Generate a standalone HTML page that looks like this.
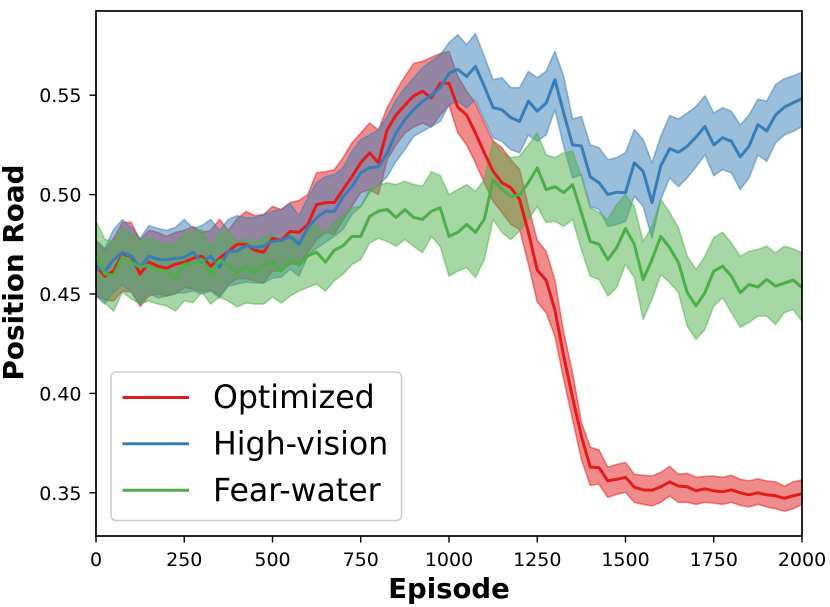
<!DOCTYPE html>
<html>
<head>
<meta charset="utf-8">
<style>
html,body{margin:0;padding:0;background:#fff;}
svg{display:block;}
text{font-family:"DejaVu Sans","Liberation Sans",sans-serif;fill:#000;}
</style>
</head>
<body>
<svg id="chart" xmlns="http://www.w3.org/2000/svg" width="830" height="607" viewBox="0 0 830 607">
<defs><clipPath id="plot-clip"><rect x="96" y="11" width="706" height="525"></rect></clipPath></defs>
<g id="bands" clip-path="url(#plot-clip)"></g>
<g id="lines" clip-path="url(#plot-clip)"></g>
<rect x="96" y="11" width="706" height="525" fill="none" stroke="#000" stroke-width="1.7"></rect>
<g id="x-axis"></g>
<g id="y-axis"></g>
<text x="449" y="598" font-size="27.5" font-weight="bold" text-anchor="middle">Episode</text>
<text transform="translate(23,272.5) rotate(-90)" font-size="27.8" font-weight="bold" text-anchor="middle">Position Road</text>
<g>
<rect x="111" y="372" width="290.5" height="148.5" rx="5" fill="#fff" fill-opacity="0.8" stroke="#cccccc" stroke-width="1.5"></rect>
<line x1="122.5" x2="189" y1="397.5" y2="397.5" stroke="#e41a1c" stroke-width="3"></line>
<text x="213" y="408" font-size="31.6">Optimized</text>
<line x1="122.5" x2="189" y1="443.8" y2="443.8" stroke="#377eb8" stroke-width="3"></line>
<text x="213" y="454.5" font-size="31.6">High-vision</text>
<line x1="122.5" x2="189" y1="490.2" y2="490.2" stroke="#4daf4a" stroke-width="3"></line>
<text x="213" y="501" font-size="31.6">Fear-water</text>
</g>
</svg>
<script>
var episodes = [0,25,50,75,100,125,150,175,200,225,250,275,300,325,350,375,400,425,450,475,500,525,550,575,600,625,650,675,700,725,750,775,800,825,850,875,900,925,950,975,1000,1025,1050,1075,1100,1125,1150,1175,1200,1225,1250,1275,1300,1325,1350,1375,1400,1425,1450,1475,1500,1525,1550,1575,1600,1625,1650,1675,1700,1725,1750,1775,1800,1825,1850,1875,1900,1925,1950,1975,2000];
var optimizedMean = [.464,.459,.4615,.470,.469,.460,.466,.464,.463,.465,
.466,.468,.469,.464,.468,.4715,.475,.475,.472,.471,
.478,.477,.4815,.481,.485,.495,.496,.496,.5025,.509,
.516,.521,.516,.5327,.540,.545,.5497,.552,.5487,.556,
.556,.544,.540,.531,.521,.5117,.506,.5035,.4975,.481,
.462,.457,.442,.4187,.398,.3785,.363,.3626,.356,.3568,
.3578,.3528,.3515,.3513,.353,.3555,.3534,.353,.351,.352,
.351,.3505,.3515,.350,.349,.350,.349,.3485,.3472,.3485,
.3495];
var optimizedUpper = [.477,.472,.478,.486,.486,.477,.482,.481,.479,.481,
.482,.484,.481,.482,.4875,.482,.488,.4915,.4894,.490,
.494,.4925,.496,.497,.500,.511,.5115,.5125,.5185,.526,
.531,.536,.5325,.5437,.552,.5594,.566,.567,.569,.571,
.572,.5594,.552,.546,.536,.527,.5236,.5176,.5126,.494,
.477,.4715,.457,.4306,.4105,.3854,.373,.3715,.3628,.3643,
.3653,.3593,.3588,.3584,.3603,.3633,.3593,.3598,.3578,.3583,
.3584,.3578,.3588,.3568,.356,.357,.356,.3555,.3533,.3555,
.3565];
var optimizedLower = [.449,.447,.4465,.4516,.451,.4438,.449,.450,.449,.450,
.4533,.4525,.451,.452,.449,.4548,.4577,.4577,.4565,.4557,
.4615,.4615,.465,.465,.4709,.4774,.481,.480,.4874,.494,
.501,.5025,.500,.5176,.525,.531,.534,.536,.534,.540,
.545,.531,.525,.516,.506,.4966,.491,.485,.4825,.465,
.446,.4406,.4288,.407,.387,.3668,.3538,.3543,.3477,.3492,
.3502,.3452,.3442,.3434,.3452,.3484,.3452,.3452,.3442,.3452,
.3448,.3442,.3452,.3437,.3429,.3442,.3429,.342,.3407,.342,
.3442];
var highVisionMean = [.4633,.4615,.4673,.4708,.4692,.4633,.469,.4675,.4672,.468,
.4685,.471,.466,.469,.4635,.4715,.4715,.4743,.4735,.474,
.4765,.477,.479,.475,.4834,.4884,.4916,.4916,.499,.504,
.511,.5135,.514,.521,.531,.5377,.5427,.5469,.55,.5537,
.561,.563,.5594,.5645,.5544,.5437,.5427,.5387,.5368,.547,
.542,.546,.5578,.541,.525,.5245,.509,.506,.500,.5012,
.501,.516,.5117,.496,.5145,.5231,.5213,.5243,.529,.5343,
.525,.5286,.5268,.519,.5243,.5352,.532,.540,.544,.5462,
.5482];
var highVisionUpper = [.477,.473,.4824,.4874,.4835,.478,.4844,.483,.482,.4835,
.4875,.483,.4844,.4875,.482,.4875,.4894,.4884,.4884,.490,
.4916,.4925,.4955,.4895,.4985,.506,.509,.510,.5135,.5218,
.5276,.530,.5325,.5393,.5477,.5537,.5588,.5638,.567,.5703,
.5764,.5804,.5754,.581,.5695,.5578,.5588,.5538,.5538,.562,
.5588,.562,.572,.5594,.538,.5393,.525,.5236,.5176,.5186,
.521,.5327,.5277,.516,.5293,.5397,.538,.541,.5444,.5497,
.541,.5437,.5419,.535,.540,.548,.547,.5553,.5583,.5598,
.5615];
var highVisionLower = [.449,.445,.451,.4545,.451,.445,.4505,.448,.449,.4505,
.4505,.4515,.450,.4515,.448,.454,.455,.456,.4555,.4555,
.458,.4585,.4625,.459,.469,.473,.476,.479,.4825,.490,
.494,.501,.5047,.509,.5167,.5226,.5293,.5318,.5343,.5368,
.5452,.5469,.5437,.5477,.5377,.5286,.5268,.5226,.521,.530,
.5268,.530,.5427,.5243,.5085,.510,.494,.4925,.484,.485,
.4865,.4992,.494,.478,.4975,.5085,.504,.5085,.514,.520,
.5095,.5126,.511,.5025,.5085,.520,.5167,.526,.530,.5318,
.5343];
var fearWaterMean = [.4708,.460,.4595,.4688,.466,.4635,.4645,.4616,.4616,.458,
.465,.465,.4675,.460,.467,.4645,.4605,.4635,.4605,.4645,
.466,.4615,.4675,.4645,.4692,.471,.466,.472,.4743,.479,
.479,.489,.4917,.4925,.4885,.4925,.4885,.4875,.4917,.4933,
.479,.481,.485,.481,.4875,.5075,.5025,.499,.500,.506,
.5135,.5025,.504,.501,.505,.491,.4765,.475,.4673,.4733,
.483,.475,.4573,.4673,.479,.4733,.4658,.4507,.444,.4507,
.4615,.464,.459,.4507,.4548,.4535,.4573,.454,.4555,.457,
.4533];
var fearWaterUpper = [.4866,.4774,.4766,.483,.480,.477,.478,.4765,.4745,.4755,
.480,.4816,.4825,.4735,.481,.4816,.476,.478,.476,.4786,
.480,.4766,.481,.4766,.4825,.485,.480,.486,.4895,.4934,
.494,.5025,.5047,.506,.505,.5067,.505,.5042,.5115,.5097,
.500,.5025,.505,.5017,.5075,.527,.521,.5186,.5193,.525,
.531,.520,.5186,.521,.5218,.509,.4935,.491,.4875,.495,
.500,.494,.4765,.484,.4975,.491,.4834,.469,.4623,.469,
.4784,.481,.4757,.469,.4715,.4724,.474,.4707,.474,.4727,
.4707];
var fearWaterLower = [.454,.4455,.4414,.451,.4475,.445,.4465,.445,.444,.4415,
.4465,.4457,.451,.445,.4485,.4465,.4435,.4455,.445,.445,
.4485,.4455,.449,.4515,.4533,.455,.4515,.4567,.460,.4648,
.4673,.4757,.478,.4765,.474,.4774,.474,.4708,.479,.474,
.459,.4615,.4633,.4583,.4673,.4875,.481,.4774,.4817,.4875,
.494,.486,.4866,.484,.4875,.4724,.459,.4573,.449,.4533,
.465,.4583,.4372,.4473,.4598,.4558,.4507,.4338,.4272,.4322,
.4439,.4482,.4407,.4332,.4357,.4389,.4389,.4347,.4407,.4422,
.4363];
var xTickValues = [0,250,500,750,1000,1250,1500,1750,2000];
var yTickValues = [0.35,0.40,0.45,0.50,0.55];
var yTickLabels = ["0.35","0.40","0.45","0.50","0.55"];

var NS = "http://www.w3.org/2000/svg";
function xScale(v){ return 96 + (v - 0) / 2000 * 706; }
function yScale(v){ return 492.8 - (v - 0.35) / 0.20 * 397.6; }
function make(tag, attrs, parent){
  var el = document.createElementNS(NS, tag);
  for (var k in attrs) el.setAttribute(k, attrs[k]);
  parent.appendChild(el);
  return el;
}
function linePoints(values){
  return values.map(function(v,i){ return xScale(episodes[i]).toFixed(2) + "," + yScale(v).toFixed(2); });
}
function addBand(upper, lower, color, name){
  var g = document.getElementById("bands");
  var pts = linePoints(upper).concat(linePoints(lower).reverse()).join(" ");
  var el = make("polygon", {points: pts, fill: color, "fill-opacity": 0.5, stroke: color, "stroke-opacity": 0.5, "stroke-width": 1.6, "stroke-linejoin": "round"}, g);
  
  
}
function addLine(values, color, name){
  var g = document.getElementById("lines");
  var el = make("polyline", {points: linePoints(values).join(" "), fill: "none", stroke: color, "stroke-width": 3, "stroke-linejoin": "round"}, g);
  
  
}
addBand(optimizedUpper, optimizedLower, "#e41a1c", "band-optimized");
addBand(highVisionUpper, highVisionLower, "#377eb8", "band-high-vision");
addBand(fearWaterUpper, fearWaterLower, "#4daf4a", "band-fear-water");
addLine(optimizedMean, "#e41a1c", "line-optimized");
addLine(highVisionMean, "#377eb8", "line-high-vision");
addLine(fearWaterMean, "#4daf4a", "line-fear-water");

var xAxis = document.getElementById("x-axis");
xTickValues.forEach(function(v){
  var x = xScale(v);
  var t = make("line", {x1:x, x2:x, y1:536, y2:542.5, stroke:"#000", "stroke-width":1.4}, xAxis);
  
  
  var l = make("text", {x:x, y:566, "font-size":19, "text-anchor":"middle"}, xAxis);
  
  
  l.textContent = String(v);
});
var yAxis = document.getElementById("y-axis");
yTickValues.forEach(function(v,i){
  var y = yScale(v);
  var t = make("line", {x1:96, x2:89.5, y1:y, y2:y, stroke:"#000", "stroke-width":1.4}, yAxis);
  
  
  var l = make("text", {x:81.5, y:y + 7, "font-size":19, "text-anchor":"end"}, yAxis);
  
  
  l.textContent = yTickLabels[i];
});
</script>
</body>
</html>
